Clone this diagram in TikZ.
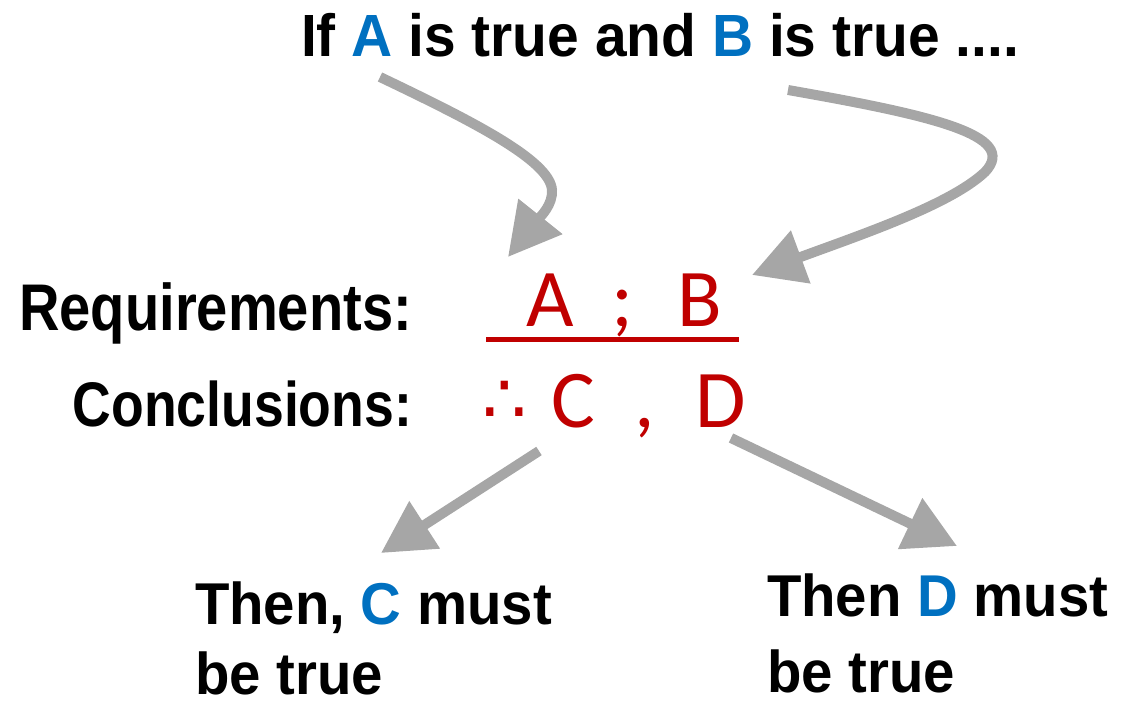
\documentclass[tikz,border=0pt]{standalone}
\usepackage{fontspec}
\setmainfont{Liberation Sans}
\newfontfamily\headfont[FakeStretch=0.955]{Liberation Sans}
\newfontfamily\lblfont[FakeStretch=0.85]{Liberation Sans}
\newfontfamily\redfont{Carlito}
\newfontfamily\symfont{DejaVu Sans}
\usepackage{xcolor}
\usetikzlibrary{arrows.meta}

\definecolor{argred}{HTML}{C00000}
\definecolor{argblue}{HTML}{0070C0}
\definecolor{arrowgray}{HTML}{A6A6A6}

\begin{document}
\begin{tikzpicture}[
  x=0.5pt,
  y=-0.5pt,
  every node/.style={inner sep=0pt, outer sep=0pt},
  words/.style={font=\headfont\bfseries\fontsize{29.5}{35}\selectfont, anchor=base west},
  rowlabel/.style={font=\lblfont\bfseries\fontsize{33}{40}\selectfont, anchor=base east},
  symb/.style={font=\redfont\fontsize{41}{48}\selectfont, text=argred, anchor=base},
  flow/.style={draw=arrowgray, line width=5pt, -{Triangle[length=26pt,width=27pt]}},
]
\path[use as bounding box] (0,0) rectangle (1121,705);

% Premise text.
\node[words, font=\headfont\bfseries\fontsize{29.8}{35}\selectfont] (premise) at (301,57) {If \textcolor{argblue}{A} is true and \textcolor{argblue}{B} is true ....};

% Row labels.
\node[rowlabel] (req) at (412,331) {Requirements:};
\node[rowlabel, font=\lblfont\bfseries\fontsize{31.5}{40}\selectfont] (conc) at (412,427) {Conclusions:};

% Argument form.
\node[symb] (reqA) at (550,327) {A};
\node[symb] (semi) at (622,327) {;};
\node[symb] (reqB) at (700,327) {B};
\draw[argred, line width=2.5pt] (486,339.5) -- (739,339.5);
\node[symb, font=\symfont\fontsize{35}{40}\selectfont] (therefore) at (505,424) {∴};
\node[symb] (conC) at (573,428) {C};
\node[symb] (comma) at (645,428) {,};
\node[symb] (conD) at (721,428) {D};

% Results.
\node[words, align=left] (thenC) at (195,695) {Then, \textcolor{argblue}{C} must\\be true};
\node[words, align=left] (thenD) at (767,693) {Then \textcolor{argblue}{D} must\\[3pt]be true};

% Arrow ends.
\coordinate (fromA) at (380,77);
\coordinate (toA) at (508,257);
\coordinate (fromB) at (788,90);
\coordinate (toB) at (752,275);
\coordinate (fromC) at (539,451);
\coordinate (toC) at (381,553);
\coordinate (fromD) at (731,438);
\coordinate (toD) at (957,546);

% Connectors.
\draw[flow] (fromA) .. controls (470,120) and (550,160) .. (552,190) .. controls (553,205) and (540,217) .. (toA);
\draw[flow] (fromB) .. controls (930,115) and (1020,135) .. (985,172) .. controls (950,205) and (860,235) .. (toB);
\draw[flow] (fromC) -- (toC);
\draw[flow] (fromD) -- (toD);

\end{tikzpicture}
\end{document}
